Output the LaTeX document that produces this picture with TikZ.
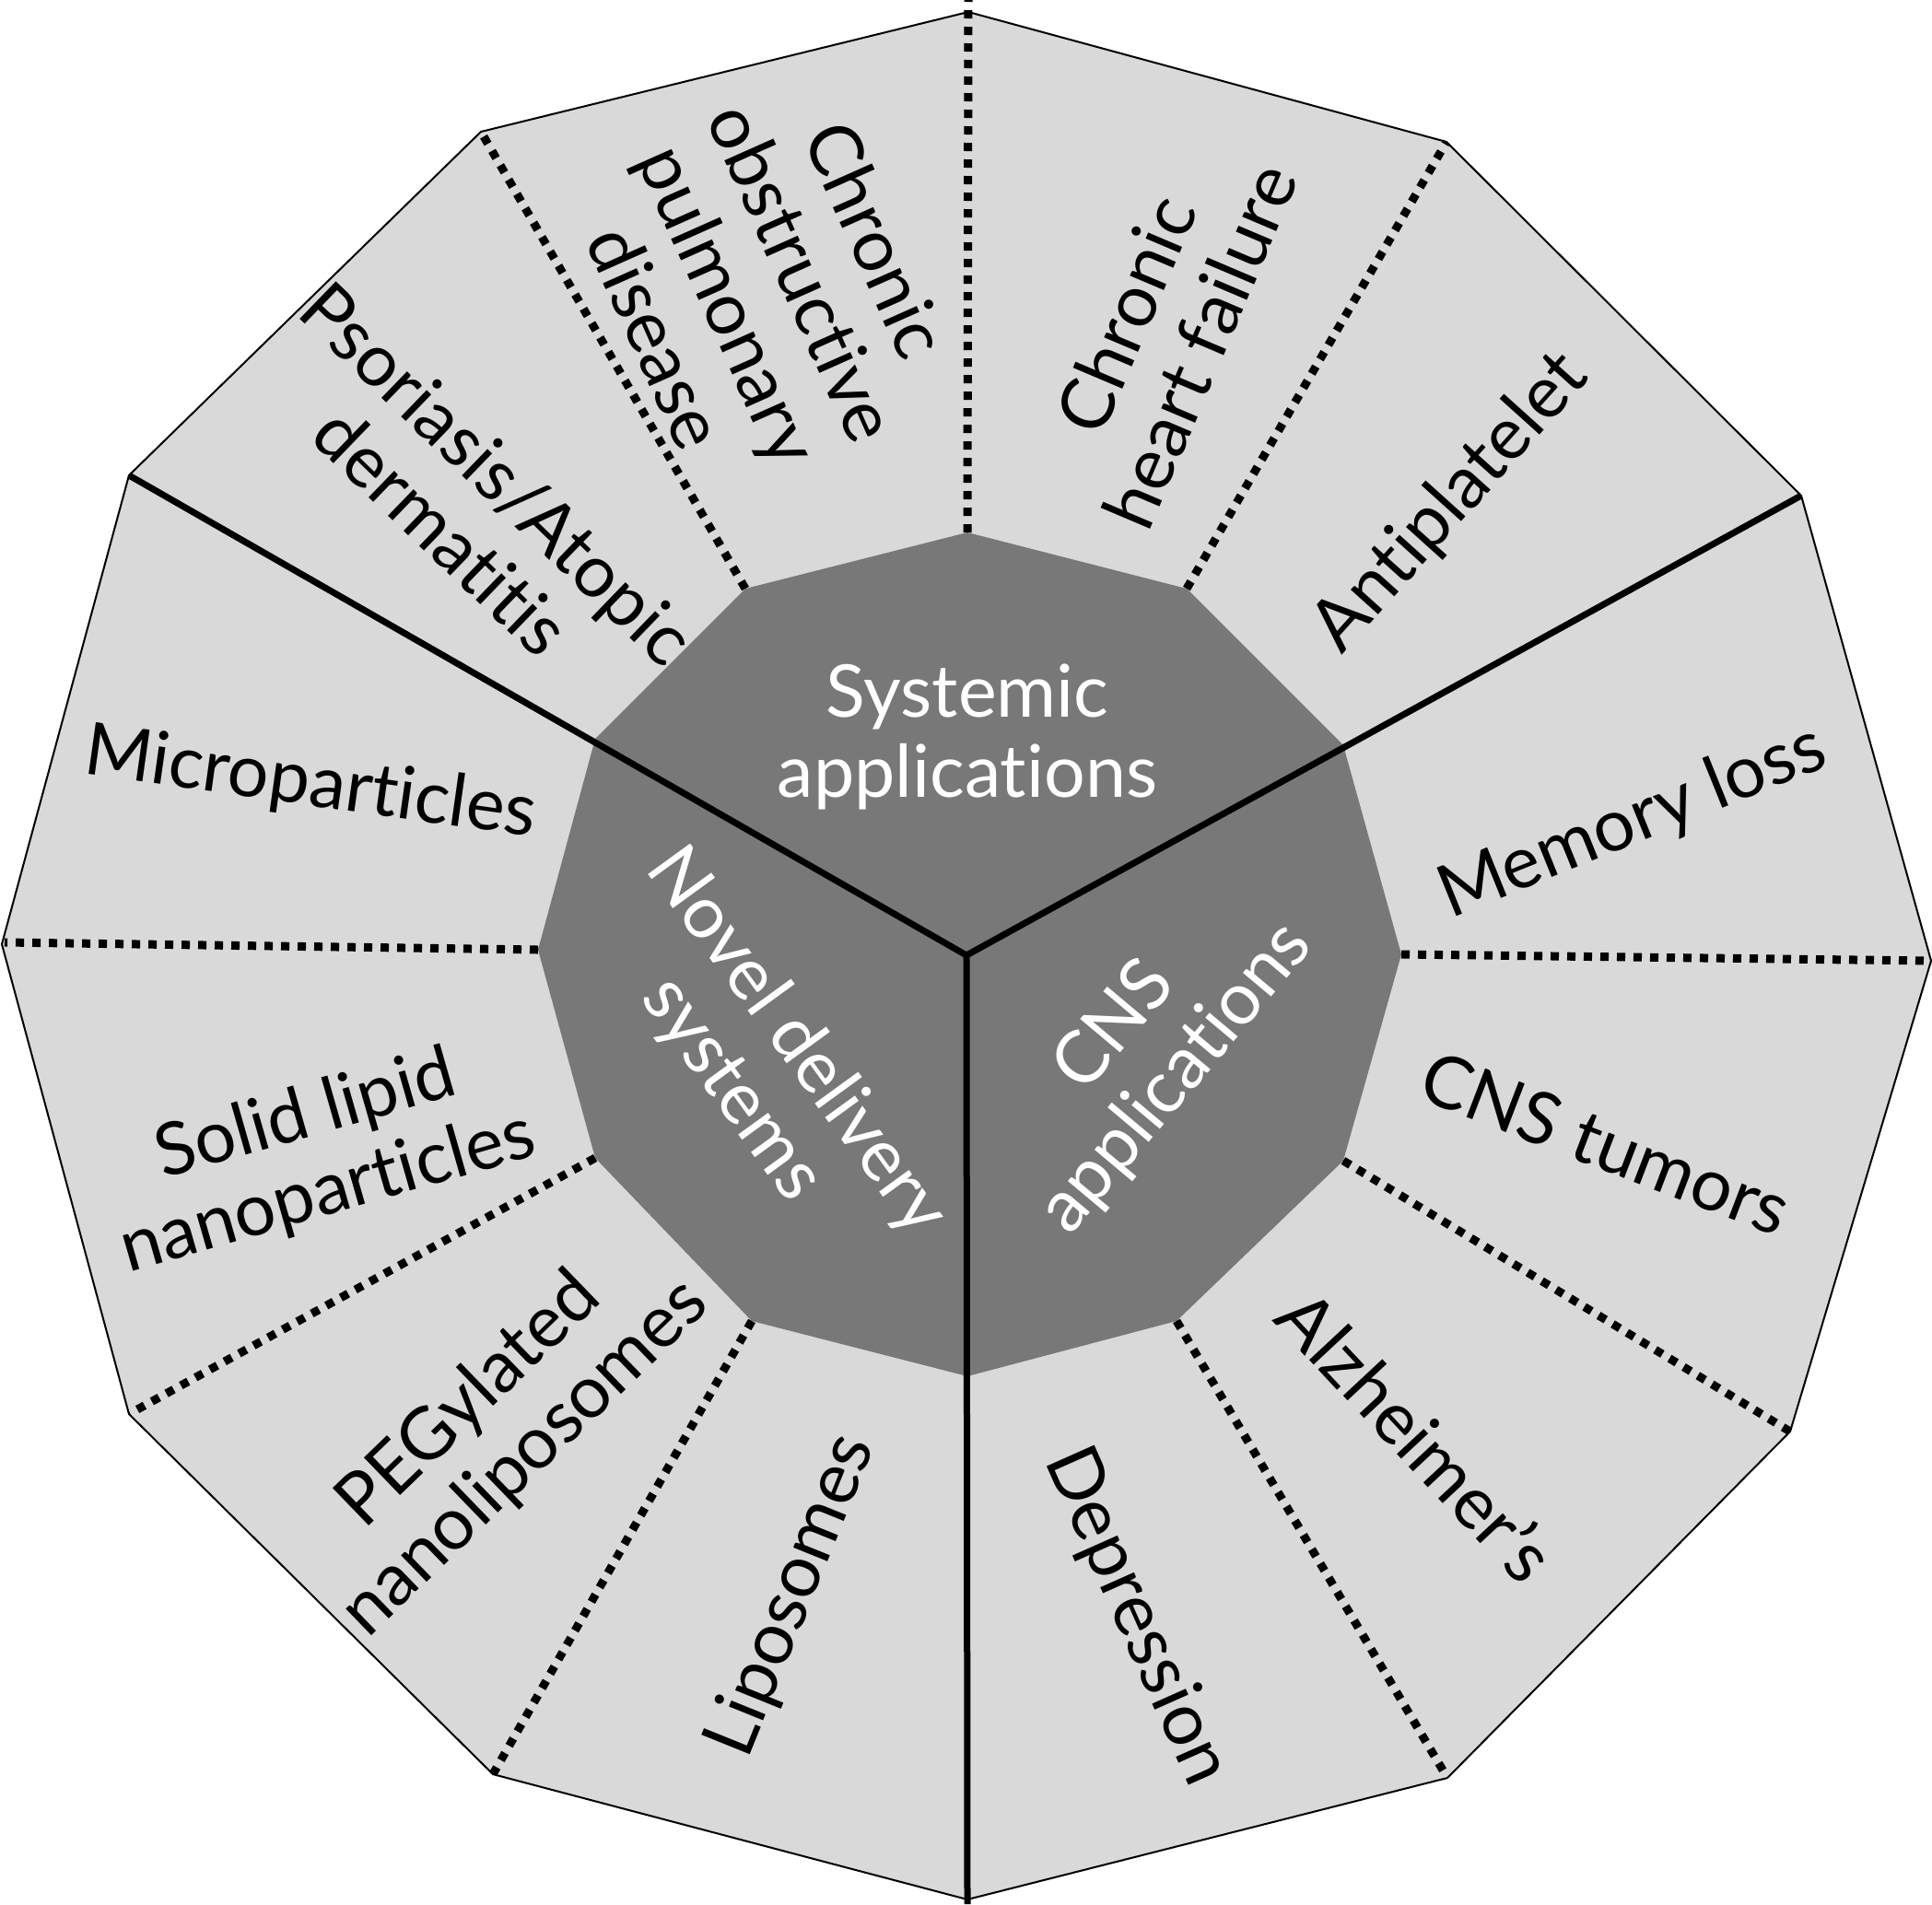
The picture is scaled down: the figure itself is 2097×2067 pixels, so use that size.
\documentclass[tikz,border=0pt]{standalone}
\usepackage{fontspec}
\setmainfont[Ligatures={NoCommon,NoContextual},RawFeature={-liga;-dlig}]{Lato}
\definecolor{outerg}{HTML}{D9D9D9}
\definecolor{innerg}{HTML}{787878}
\begin{document}
\begin{tikzpicture}[x=0.5pt,y=-0.5pt,
  lbl/.style={font=\fontsize{39.5}{43.5}\selectfont, align=center, text=black, inner sep=0pt},
  ctr/.style={lbl, text=white},
  dotl/.style={line width=4.5pt, dash pattern=on 4.5pt off 4.5pt},
  solidl/.style={line width=3.5pt}]
\useasboundingbox (0,0) rectangle (2097,2067);
% outer vertices
\coordinate (o90) at (1051,13);
\coordinate (o60) at (1570,154);
\coordinate (o30) at (1955,538);
\coordinate (o0) at (2096,1043);
\coordinate (om30) at (1943,1554);
\coordinate (om60) at (1571,1930);
\coordinate (om90) at (1050,2062);
\coordinate (om120) at (535,1926);
\coordinate (om150) at (140,1535);
\coordinate (o180) at (2,1025);
\coordinate (o150) at (140,516);
\coordinate (o120) at (522,143);
% inner vertices
\coordinate (i90) at (1050,578);
\coordinate (i60) at (1288,639);
\coordinate (i30) at (1458,809);
\coordinate (i0) at (1521,1036);
\coordinate (im30) at (1458,1260);
\coordinate (im60) at (1277,1434);
\coordinate (im90) at (1050,1494);
\coordinate (im120) at (816,1434);
\coordinate (im150) at (646,1257);
\coordinate (i180) at (584,1031);
\coordinate (i150) at (646,802);
\coordinate (i120) at (809,639);
\coordinate (c) at (1049,1037);
\coordinate (ttop) at (1051,0);
\coordinate (bot) at (1050,2067);
\coordinate (rgt) at (2097,1043);
\coordinate (lft) at (5,1023);
% shapes
\filldraw[fill=outerg, draw=black, line width=1pt] (o90) -- (o60) -- (o30) -- (o0) -- (om30) -- (om60) -- (om90) -- (om120) -- (om150) -- (o180) -- (o150) -- (o120) -- cycle;
\fill[innerg] (i90) -- (i60) -- (i30) -- (i0) -- (im30) -- (im60) -- (im90) -- (im120) -- (im150) -- (i180) -- (i150) -- (i120) -- cycle;
% dotted separators
\draw[dotl] (i90) -- (ttop);
\draw[dotl] (i60) -- (o60);
\draw[dotl] (i120) -- (o120);
\draw[dotl] (i0) -- (rgt);
\draw[dotl] (i180) -- (lft);
\draw[dotl] (im30) -- (om30);
\draw[dotl] (im60) -- (om60);
\draw[dotl] (im120) -- (om120);
\draw[dotl] (im150) -- (om150);
% solid separators
\draw[solidl] (o150) -- (c) -- (o30);
\draw[solidl] (c) -- (bot);
% labels
\node[lbl, rotate=-66] (copd) at (832,313) {Chronic\\obstructive\\pulmonary\\disease};
\node[lbl, rotate=67] (chf) at (1262,358) {Chronic\\heart failure};
\node[lbl, rotate=48] (anti) at (1575,546) {Antiplatelet};
\node[lbl, rotate=22] (mem) at (1772,893) {Memory loss};
\node[lbl, rotate=-21] (tum) at (1743,1241) {CNS tumors};
\node[lbl, rotate=-47] (alz) at (1538,1558) {Alzheimer’s};
\node[lbl, rotate=-66] (dep) at (1233,1755) {Depression};
\node[lbl, rotate=68] (lip) at (860,1732) {Liposomes};
\node[lbl, rotate=44] (peg) at (540,1552) {PEGylated\\nanoliposomes};
\node[lbl, rotate=16] (sln) at (344,1254) {Solid lipid\\nanoparticles};
\node[lbl, rotate=-8] (micro) at (337,852) {Microparticles};
\node[lbl, rotate=-44] (pso) at (510,545) {Psoriasis/Atopic\\dermatitis};
\node[ctr] (sys) at (1050,800) {Systemic\\applications};
\node[ctr, rotate=50] (cns) at (1244,1143) {CNS\\applications};
\node[ctr, rotate=-54] (nov) at (829,1157) {Novel delivery\\systems};
\end{tikzpicture}
\end{document}
